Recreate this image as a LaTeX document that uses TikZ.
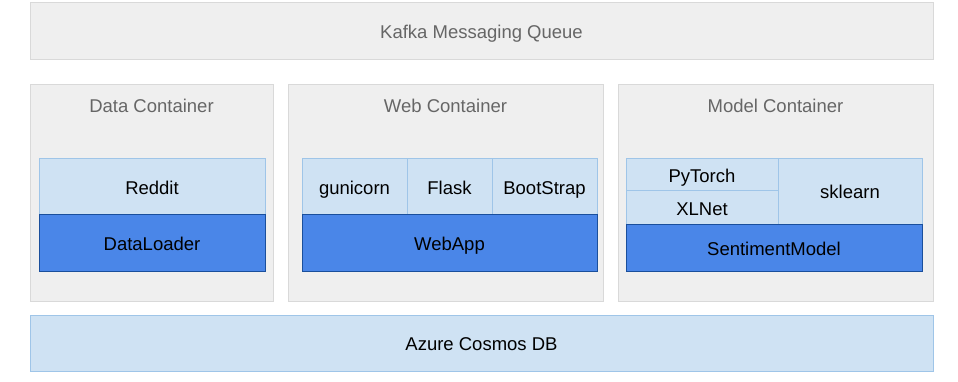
\documentclass[tikz,border=0pt]{standalone}
\usepackage{fontspec}
\setmainfont{Liberation Sans}
\usetikzlibrary{positioning}

\definecolor{grayfill}{HTML}{EFEFEF}
\definecolor{grayline}{HTML}{D9D9D9}
\definecolor{titlegray}{HTML}{666666}
\definecolor{lightfill}{HTML}{CFE2F3}
\definecolor{lightline}{HTML}{9FC5E8}
\definecolor{darkfill}{HTML}{4A86E8}
\definecolor{darkline}{HTML}{1A4F9C}

\begin{document}
\begin{tikzpicture}[x=1pt,y=-1pt,
    every node/.style={font=\fontsize{18.5}{22}\selectfont, inner sep=0pt, outer sep=0pt,
      text height=15pt, text depth=0pt},
    outer/.style={draw=grayline, fill=grayfill, text=titlegray, line width=1pt},
    light/.style={draw=lightline, fill=lightfill, text=black, line width=1pt},
    dark/.style={draw=darkline, fill=darkfill, text=black, line width=1pt},
    title/.style={text=titlegray}]
  \useasboundingbox (0,0) rectangle (958,382);

  % queue on top, database at the bottom
  \node[outer, anchor=north west, minimum width=903pt, minimum height=57pt] (kafka) at (30,3) {Kafka Messaging Queue};
  \node[light, anchor=north west, minimum width=903pt, minimum height=56pt] (azure) at (30,315) {Azure Cosmos DB};

  % the three containers
  \node[outer, anchor=north west, minimum width=243pt, minimum height=216pt] (data) at (30,85) {};
  \node[outer, anchor=north west, minimum width=315pt, minimum height=216pt] (web) at (288,85) {};
  \node[outer, anchor=north west, minimum width=315pt, minimum height=216pt] (model) at (618,85) {};
  \node[title] at ([yshift=-20pt]data.north) {Data Container};
  \node[title] at ([yshift=-20pt]web.north) {Web Container};
  \node[title] at ([yshift=-20pt]model.north) {Model Container};

  % data container
  \node[light, anchor=north west, minimum width=226pt, minimum height=56pt] (reddit) at (39,159) {Reddit};
  \node[dark, minimum width=226pt, minimum height=56pt] (loader) [below=0pt of reddit] {DataLoader};

  % web container
  \node[light, anchor=north west, minimum width=105pt, minimum height=56pt] (gunicorn) at (302,159) {gunicorn};
  \node[light, minimum width=85pt, minimum height=56pt] (flask) [right=0pt of gunicorn] {Flask};
  \node[light, minimum width=105pt, minimum height=56pt] (bootstrap) [right=0pt of flask] {BootStrap};
  \node[dark, anchor=north west, minimum width=295pt, minimum height=56pt] (webapp) at (gunicorn.south west) {WebApp};

  % model container
  \node[light, anchor=north west, minimum width=152pt, minimum height=32pt] (pytorch) at (626,159) {PyTorch};
  \node[light, minimum width=152pt, minimum height=33pt] (xlnet) [below=0pt of pytorch] {XLNet};
  \node[light, anchor=north west, minimum width=144pt, minimum height=65pt] (sklearn) at (pytorch.north east) {sklearn};
  \node[dark, anchor=north west, minimum width=296pt, minimum height=47pt] (sentiment) at (xlnet.south west) {SentimentModel};
\end{tikzpicture}
\end{document}
